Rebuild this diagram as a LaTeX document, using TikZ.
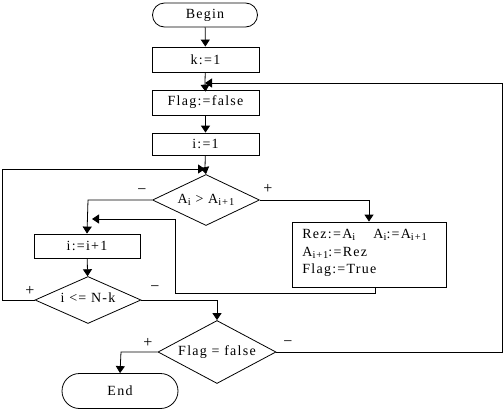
\documentclass[tikz,border=0pt]{standalone}
\usepackage{fontspec}
\setmainfont{Liberation Serif}[LetterSpace=9]
\usetikzlibrary{arrows.meta,shapes.geometric,shapes.misc}
\newcommand\sbs[1]{\raisebox{-0.3ex}{\fontsize{10.5}{10.5}\selectfont #1}}
\begin{document}
\begin{tikzpicture}[x=1pt,y=-1pt,line width=0.8pt,
  font=\fontsize{14}{16}\selectfont,
  box/.style={draw,rectangle,minimum width=107pt,minimum height=24pt,inner sep=0pt},
  term/.style={draw,rounded rectangle,inner sep=0pt},
  dec/.style={draw,diamond,inner sep=0pt},
  arr/.style={-{Triangle[width=9pt,length=7pt]}},
  lbl/.style={inner sep=0pt,font=\fontsize{16}{16}\selectfont}]
\useasboundingbox (0,0) rectangle (504,410);
\node[term,minimum width=105pt,minimum height=24pt] (begin) at (205,15) {Begin};
\node[box,minimum height=25pt] (k) at (205.5,59.5) {k:=1};
\node[box,minimum height=25pt] (flag) at (205.5,102.5) {Flag:=false};
\node[box,minimum height=22pt] (i1) at (205.5,144) {i:=1};
\node[dec,minimum width=107pt,minimum height=51pt] (cmp) at (206,200) {};
\node (cmpt) at (cmp) {A\sbs{i} > A\sbs{i+1}};
\node[box,minimum width=106pt,minimum height=24pt] (inc) at (87,246) {i:=i+1};
\node[draw,rectangle,minimum width=154pt,minimum height=65pt,inner sep=0pt] (swap) at (369,254.5) {};
\node[anchor=north west,align=left,inner sep=0pt,font=\fontsize{14}{17.5}\selectfont] (swapt) at (302,229)
  {Rez:=A\sbs{i}\hspace{1.3em}A\sbs{i}:=A\sbs{i+1}\\A\sbs{i+1}:=Rez\\Flag:=True};
\node[dec,minimum width=106pt,minimum height=47pt] (le) at (88,300) {};
\node (let) at ([yshift=2pt]le) {i <= N-k};
\node[dec,minimum width=118pt,minimum height=63pt] (fl) at (217,352) {};
\node (flt) at (fl) {Flag = false};
\node[term,minimum width=116pt,minimum height=35pt] (end) at (120,391) {End};
% junctions
\coordinate (j1) at (205,83);
\coordinate (j2) at (205,169);
\coordinate (cL) at (88,200);
\coordinate (cR) at (369,200);
\coordinate (j3) at (88,219);
\coordinate (sb) at (375,293);
\coordinate (sbL) at (175,293);
\coordinate (sbU) at (175,219);
\coordinate (lL) at (2,300);
\coordinate (lU) at (2,169);
\coordinate (rR) at (217,302);
\coordinate (fL) at (121,352);
\coordinate (fR) at (502,352);
\coordinate (fU) at (502,83);
% edges
\draw[arr] (begin) -- (k);
\draw (k) -- (j1);
\draw[arr] (j1) -- ([yshift=-2pt]flag.north);
\draw[arr] (flag) -- (i1);
\draw (i1) -- (j2);
\draw[arr] (j2) -- (cmp.north);
\draw[arr] (cmp.west) -- (cL) -- (inc.north);
\draw[arr] (cmp.east) -- (cR) -- (swap.north -| cR);
\draw[arr] (swap.south -| sb) -- (sb) -- (sbL) -- (sbU) -- ([xshift=4pt]j3);
\draw[arr] (inc) -- (le);
\draw[arr] (le.west) -- (lL) -- (lU) -- (j2);
\draw[arr] (le.east) -- (rR |- le.east) -- (fl.north);
\draw[arr] (fl.west) -- (fL) -- (end.north);
\draw[arr] (fl.east) -- (fR) -- (fU) -- (j1);
% branch labels
\node[lbl] (m1) at (142,192) {−};
\node[lbl] (p1) at (268,189) {+};
\node[lbl] (p2) at (30,291) {+};
\node[lbl] (m2) at (155,289) {−};
\node[lbl] (p3) at (148,343) {+};
\node[lbl] (m3) at (288,344) {−};
\end{tikzpicture}
\end{document}
